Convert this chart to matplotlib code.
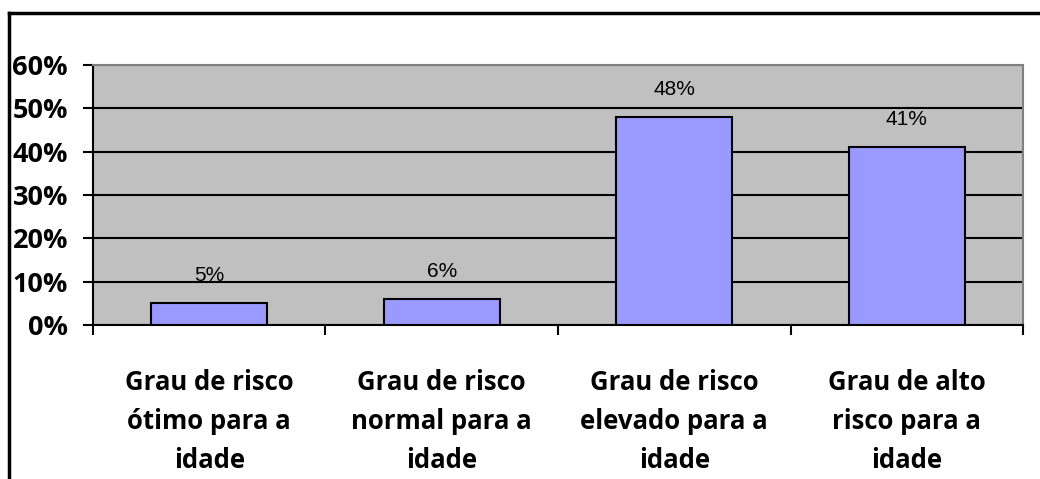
import matplotlib.pyplot as plt
from matplotlib.lines import Line2D

categorias = ["Grau de risco\nótimo para a\nidade",
              "Grau de risco\nnormal para a\nidade",
              "Grau de risco\nelevado para a\nidade",
              "Grau de alto\nrisco para a\nidade"]
valores = [5, 6, 48, 41]
y_ticks = [0, 10, 20, 30, 40, 50, 60]

fig = plt.figure(figsize=(10.4, 4.79), dpi=100)
ax = fig.add_axes([0.0894, 0.3215, 0.8943, 0.5428])
ax.set_facecolor("#C0C0C0")

x = list(range(len(valores)))
ax.bar(x, valores, width=0.5, color="#9999FF", edgecolor="black", linewidth=1.5, zorder=3)

for xi, v in zip(x, valores):
    ax.annotate(f"{v}%", (xi, v), xytext=(0, 13), textcoords="offset points",
                ha="center", va="bottom", fontsize=15, family="Liberation Sans", zorder=4)

ax.set_xlim(-0.5, 3.5)
ax.set_ylim(0, 60)
ax.set_yticks(y_ticks)
ax.set_yticklabels([f"{t}%" for t in y_ticks], fontsize=19.5, fontweight="bold", family="Open Sans")
ax.yaxis.grid(True, color="black", linewidth=1.5, zorder=1)
ax.set_axisbelow(True)
ax.tick_params(axis="y", direction="out", length=7, width=1.5, pad=11)

ax.set_xticks(x)
ax.set_xticklabels(categorias, fontsize=18.5, fontweight="bold", family="Open Sans", linespacing=1.55)
ax.set_xticks([-0.5, 0.5, 1.5, 2.5, 3.5], minor=True)
ax.tick_params(axis="x", which="major", length=0, pad=32)
ax.tick_params(axis="x", which="minor", direction="out", length=7, width=1.5)

for s in ["left", "bottom"]:
    ax.spines[s].set_linewidth(1.5)
    ax.spines[s].set_color("black")
for s in ["top", "right"]:
    ax.spines[s].set_linewidth(1.5)
    ax.spines[s].set_color("#808080")

# moldura do gráfico
fig.add_artist(Line2D([9 / 1040, 9 / 1040], [0, 1 - 13 / 479], color="black", linewidth=2.5,
                      transform=fig.transFigure))
fig.add_artist(Line2D([9 / 1040, 1], [1 - 13 / 479, 1 - 13 / 479], color="black", linewidth=2.5,
                      transform=fig.transFigure))

fig.savefig("out.png", dpi=100)
